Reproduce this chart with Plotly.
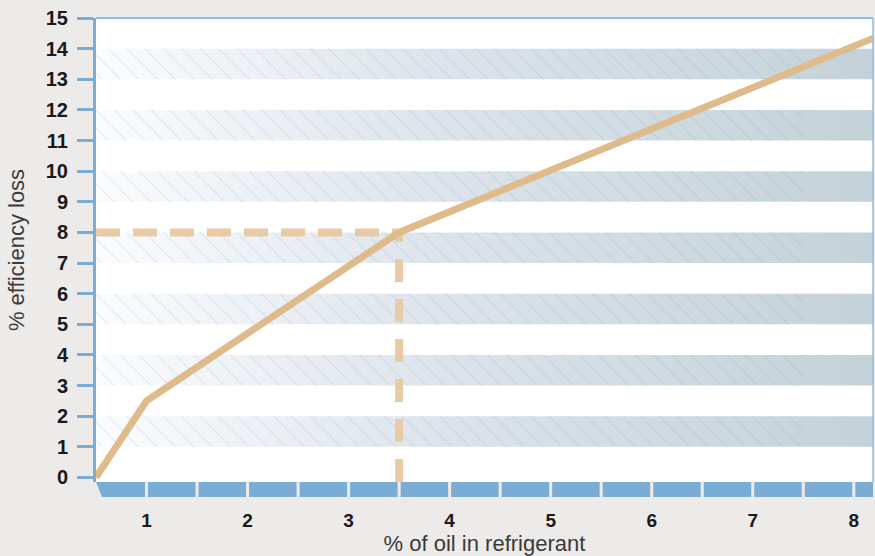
import plotly.graph_objects as go

# ---- data ----
oil_pct = [0.5, 1.0, 3.5, 8.2]
eff_loss = [0.0, 2.5, 8.0, 14.35]
ref_x = 3.5
ref_y = 8.0
x_ticks = [1, 2, 3, 4, 5, 6, 7, 8]
y_ticks = list(range(0, 16))
band_lows = [1, 3, 5, 7, 9, 11, 13]

X_MIN, X_MAX = 0.5, 8.19
Y_MIN, Y_MAX = -0.15, 15.0
HATCH_END = 7.5

BLUE = "#79add5"
FONT = "Liberation Sans"

fig = go.Figure()

# shaded horizontal bands (gradient)
bx, by = [], []
for lo in band_lows:
    bx += [X_MIN, X_MAX, X_MAX, X_MIN, X_MIN, None]
    by += [lo, lo, lo + 1, lo + 1, lo, None]
fig.add_trace(go.Scatter(
    x=bx, y=by, mode="none", fill="toself",
    fillgradient=dict(type="horizontal",
                      colorscale=[[0, "#fbfcfd"], [0.45, "#dde3ea"], [1, "#c3d2d8"]]),
    hoverinfo="skip", showlegend=False))

# hatching on the bands
hx, hy = [], []
for lo in band_lows:
    hx += [X_MIN, HATCH_END, HATCH_END, X_MIN, X_MIN, None]
    hy += [lo, lo, lo + 1, lo + 1, lo, None]
fig.add_trace(go.Scatter(
    x=hx, y=hy, mode="none", fill="toself", fillcolor="rgba(0,0,0,0)",
    fillpattern=dict(shape="\\", fgcolor="rgba(110,170,215,0.45)",
                     bgcolor="rgba(0,0,0,0)", size=13, solidity=0.08),
    hoverinfo="skip", showlegend=False))

# dashed reference lines
fig.add_trace(go.Scatter(
    x=[X_MIN, ref_x], y=[ref_y, ref_y], mode="lines",
    line=dict(color="#e8caa6", width=8, dash="24px,13px"),
    hoverinfo="skip", showlegend=False))
fig.add_trace(go.Scatter(
    x=[ref_x, ref_x], y=[Y_MIN, ref_y], mode="lines",
    line=dict(color="#e8caa6", width=8, dash="23px,17px"),
    hoverinfo="skip", showlegend=False))

# main curve
fig.add_trace(go.Scatter(
    x=oil_pct, y=eff_loss, mode="lines",
    line=dict(color="#dfba8b", width=7),
    showlegend=False))

# bottom axis bar made of segments between half-unit ticks
bar_top, bar_bot = 0.0, -15 / 464
bounds = [X_MIN + 0.5 * i for i in range(16)] + [X_MAX]
shapes = []
for i in range(len(bounds) - 1):
    a, b = bounds[i], bounds[i + 1]
    a2 = a + 0.015 if i > 0 else a
    b2 = b - 0.015 if i < len(bounds) - 2 else b
    if i == 0:
        path = (f"M {a},{bar_top} L {b2},{bar_top} L {b2},{bar_bot} "
                f"L {a + 0.06},{bar_bot} Z")
        shapes.append(dict(type="path", xref="x", yref="paper", path=path,
                           fillcolor=BLUE, line=dict(width=0), layer="above"))
    else:
        shapes.append(dict(type="rect", xref="x", yref="paper",
                           x0=a2, x1=b2, y0=bar_bot, y1=bar_top,
                           fillcolor=BLUE, line=dict(width=0), layer="above"))
# top and right frame lines
shapes.append(dict(type="line", xref="paper", yref="paper", x0=0, x1=1, y0=1, y1=1,
                   line=dict(color="#8fbde0", width=2)))
shapes.append(dict(type="line", xref="paper", yref="paper", x0=1, x1=1, y0=0, y1=1,
                   line=dict(color="#8fbde0", width=1.5)))

fig.update_layout(
    width=875, height=556,
    margin=dict(l=96, r=2, t=18, b=74),
    paper_bgcolor="#ecebea",
    plot_bgcolor="#ffffff",
    shapes=shapes,
    showlegend=False,
    font=dict(family=FONT, color="#1a1a1a"),
    xaxis=dict(
        range=[X_MIN, X_MAX], tickvals=x_ticks, ticktext=[str(v) for v in x_ticks],
        showgrid=False, zeroline=False, showline=False, ticks="",
        tickfont=dict(family=FONT, size=19, weight="bold", color="#1a1a1a"),
        ticklabelstandoff=25,
        title=dict(text="% of oil in refrigerant",
                   font=dict(family=FONT, size=22, color="#3a3a3a"), standoff=2),
        automargin=False,
    ),
    yaxis=dict(
        range=[Y_MIN, Y_MAX], tickvals=y_ticks, ticktext=[str(v) for v in y_ticks],
        showgrid=False, zeroline=False, showline=True, linecolor=BLUE, linewidth=3,
        ticks="outside", ticklen=16, tickwidth=3, tickcolor=BLUE,
        tickfont=dict(family=FONT, size=20, weight="bold", color="#1a1a1a"),
        ticklabelstandoff=5,
        title=dict(text="% efficiency loss",
                   font=dict(family=FONT, size=22, color="#3a3a3a"), standoff=16),
        automargin=False,
    ),
)

fig.write_html(
    "out.html",
    config={"displayModeBar": False},
    post_script="document.body.style.margin='0';document.body.style.overflow='hidden';",
)
